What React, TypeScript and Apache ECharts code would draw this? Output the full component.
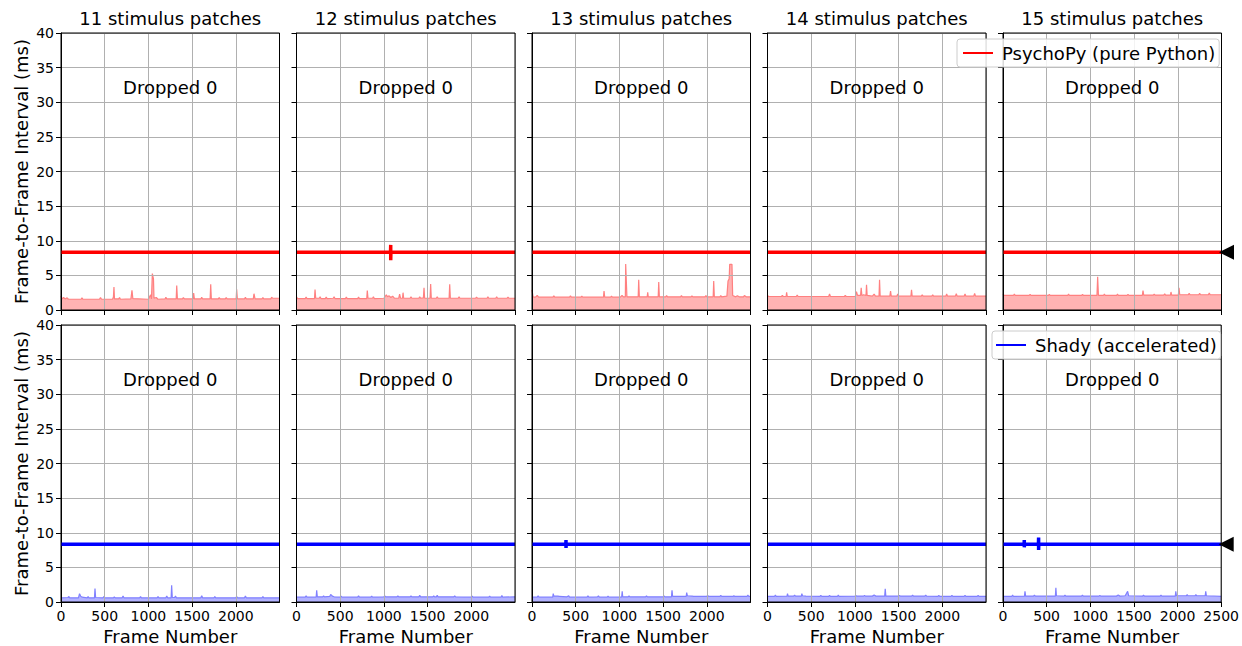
import React, { useEffect, useRef } from 'react';
import * as echarts from 'echarts';

// ---------------- data ----------------
const patchCounts = [11, 12, 13, 14, 15];
const dropLabels = ['Dropped 0', 'Dropped 0', 'Dropped 0', 'Dropped 0', 'Dropped 0'];
const rowNames = ['PsychoPy (pure Python)', 'Shady (accelerated)'];
const targetMs = 8.33;

// main frame-to-frame interval traces (ms)
const psychoLine11 = [[0, 8.33], [2500, 8.33]];
const psychoLine12 = [[0, 8.33], [1076, 8.33], [1078, 9.4], [1078, 7.2], [1080, 8.33], [2500, 8.33]];
const psychoLine13 = [[0, 8.33], [2500, 8.33]];
const psychoLine14 = [[0, 8.33], [2500, 8.33]];
const psychoLine15 = [[0, 8.33], [2500, 8.33]];
const shadyLine11 = [[0, 8.33], [2500, 8.33]];
const shadyLine12 = [[0, 8.33], [2500, 8.33]];
const shadyLine13 = [[0, 8.33], [387, 8.33], [389, 8.95], [389, 7.8], [391, 8.33], [2500, 8.33]];
const shadyLine14 = [[0, 8.33], [2500, 8.33]];
const shadyLine15 = [[0, 8.33], [242, 8.33], [244, 8.95], [244, 7.9], [246, 8.33], [406, 8.33], [408, 9.3], [408, 7.5], [410, 8.33], [2500, 8.33]];

// processing-time traces (ms), shaded
const psychoFill11 = [[0,2.0],[12,1.6],[30,1.8],[45,1.6],[70,1.75],[85,1.55],[230,1.55],[240,1.75],[252,1.55],[440,1.55],[452,1.8],[464,1.55],[590,1.55],[600,1.9],[606,3.3],[612,1.6],[660,1.6],[670,1.8],[680,1.55],[800,1.6],[812,2.85],[822,1.65],[1000,1.55],[1025,2.2],[1035,1.6],[1045,5.25],[1058,4.5],[1064,1.7],[1090,1.8],[1110,1.55],[1190,1.6],[1200,1.85],[1210,1.6],[1318,1.6],[1324,3.55],[1332,1.6],[1390,1.6],[1400,1.8],[1412,1.6],[1512,1.6],[1518,2.45],[1526,1.6],[1600,1.6],[1610,1.85],[1620,1.6],[1706,1.6],[1713,3.7],[1720,1.6],[1800,1.6],[1810,1.8],[1820,1.6],[1880,1.6],[1890,1.8],[1900,1.6],[2004,1.6],[2010,3.0],[2018,1.6],[2100,1.6],[2110,1.85],[2120,1.6],[2200,1.6],[2208,2.35],[2220,1.6],[2300,1.6],[2310,1.8],[2320,1.6],[2400,1.6],[2410,1.85],[2420,1.7],[2500,1.7]];
const psychoFill12 = [[0,1.9],[12,1.65],[100,1.65],[110,1.85],[120,1.65],[206,1.65],[212,2.95],[220,1.7],[260,1.7],[270,1.9],[280,1.65],[330,1.65],[340,1.85],[350,1.65],[420,1.7],[430,1.9],[440,1.65],[560,1.65],[570,1.85],[580,1.65],[700,1.65],[710,1.85],[720,1.65],[804,1.65],[810,2.8],[818,1.7],[870,1.7],[880,1.9],[890,1.65],[1000,1.7],[1028,2.2],[1040,1.9],[1060,2.05],[1080,1.8],[1100,2.0],[1120,1.7],[1170,1.7],[1180,2.3],[1190,1.7],[1213,1.7],[1219,2.5],[1226,1.7],[1300,1.7],[1310,1.9],[1320,1.7],[1400,1.7],[1410,1.9],[1420,1.7],[1452,1.75],[1459,3.2],[1466,1.7],[1528,1.7],[1535,3.75],[1542,1.7],[1600,1.7],[1610,1.9],[1620,1.7],[1746,1.7],[1753,3.7],[1760,1.7],[1850,1.7],[1860,1.9],[1870,1.7],[2050,1.7],[2060,1.85],[2070,1.7],[2180,1.7],[2190,1.9],[2200,1.7],[2280,1.7],[2290,1.9],[2300,1.7],[2410,1.7],[2420,1.85],[2430,1.7],[2500,1.7]];
const psychoFill13 = [[0,2.9],[12,1.9],[40,1.85],[60,2.1],[75,1.85],[240,1.85],[250,2.05],[260,1.85],[430,1.85],[440,2.05],[450,1.85],[560,1.85],[570,2.0],[580,1.85],[818,1.85],[824,2.75],[832,1.85],[900,1.85],[910,2.0],[920,1.85],[1010,1.85],[1030,2.1],[1045,1.9],[1068,1.9],[1072,6.65],[1080,6.65],[1086,1.9],[1215,1.9],[1221,4.35],[1228,1.9],[1318,1.9],[1324,2.55],[1330,1.9],[1444,1.9],[1450,4.05],[1457,1.9],[1530,1.9],[1540,2.1],[1550,1.9],[1700,1.9],[1710,2.1],[1720,1.9],[1820,1.9],[1830,2.05],[1840,1.9],[1980,1.9],[1990,2.1],[2000,1.9],[2073,1.9],[2079,4.2],[2086,1.9],[2150,1.9],[2160,2.1],[2170,1.9],[2230,2.0],[2243,4.2],[2256,4.5],[2262,6.6],[2288,6.6],[2296,2.1],[2330,1.9],[2350,2.05],[2370,1.9],[2420,1.9],[2430,2.1],[2450,1.9],[2500,1.9]];
const psychoFill14 = [[0,2.1],[12,1.95],[160,1.95],[170,2.1],[180,1.95],[213,1.95],[219,2.55],[226,1.95],[330,1.95],[340,2.15],[350,1.95],[700,1.95],[710,2.3],[720,1.95],[880,1.95],[890,2.1],[900,1.95],[1005,1.95],[1018,2.65],[1030,2.1],[1065,2.1],[1072,3.2],[1080,2.1],[1100,2.2],[1127,2.1],[1133,3.65],[1140,2.1],[1200,2.0],[1220,2.3],[1235,2.0],[1276,2.0],[1282,4.35],[1289,2.0],[1400,2.0],[1408,2.75],[1416,2.0],[1480,2.0],[1490,2.3],[1500,2.0],[1641,2.0],[1648,2.9],[1655,2.0],[1760,2.0],[1770,2.2],[1780,2.0],[1880,2.0],[1890,2.2],[1900,2.0],[2040,2.0],[2050,2.3],[2060,2.0],[2150,2.0],[2160,2.35],[2170,2.0],[2250,2.0],[2260,2.3],[2270,2.0],[2360,2.0],[2370,2.4],[2380,2.0],[2500,2.0]];
const psychoFill15 = [[0,2.3],[12,2.1],[120,2.1],[130,2.3],[140,2.1],[300,2.1],[310,2.25],[320,2.1],[520,2.1],[530,2.25],[540,2.1],[740,2.1],[750,2.3],[760,2.1],[900,2.1],[910,2.25],[920,2.1],[1075,2.1],[1083,4.8],[1092,2.1],[1150,2.1],[1160,2.3],[1170,2.1],[1300,2.1],[1310,2.3],[1320,2.1],[1420,2.1],[1430,2.25],[1440,2.1],[1594,2.1],[1602,2.8],[1610,2.15],[1720,2.15],[1730,2.3],[1740,2.15],[1840,2.15],[1850,2.35],[1860,2.15],[1916,2.15],[1922,2.6],[1930,2.15],[2006,2.15],[2014,3.2],[2022,2.2],[2120,2.2],[2130,2.4],[2140,2.2],[2240,2.2],[2250,2.4],[2260,2.2],[2350,2.2],[2360,2.45],[2370,2.2],[2500,2.2]];
const shadyFill11 = [[0,0.6],[80,0.65],[90,0.8],[100,0.6],[200,0.6],[212,1.2],[225,0.85],[240,0.7],[300,0.6],[310,0.8],[320,0.6],[383,0.6],[389,1.95],[396,0.65],[480,0.6],[490,0.8],[500,0.6],[600,0.6],[610,0.75],[620,0.6],[700,0.6],[710,0.85],[720,0.6],[900,0.6],[910,0.8],[920,0.6],[1100,0.6],[1110,0.8],[1120,0.6],[1200,0.6],[1210,0.85],[1220,0.6],[1260,0.6],[1266,2.4],[1273,0.65],[1300,0.65],[1310,0.85],[1320,0.6],[1600,0.6],[1610,0.9],[1620,0.6],[1750,0.6],[1760,0.8],[1770,0.6],[2000,0.6],[2010,0.8],[2020,0.6],[2100,0.6],[2110,0.85],[2120,0.6],[2300,0.6],[2310,0.8],[2320,0.6],[2500,0.6]];
const shadyFill12 = [[0,0.7],[100,0.7],[110,0.9],[120,0.7],[225,0.7],[231,1.7],[238,0.75],[300,0.75],[310,0.9],[320,0.75],[380,0.8],[391,1.1],[410,0.85],[430,0.75],[500,0.7],[510,0.85],[520,0.7],[700,0.7],[710,0.9],[720,0.7],[850,0.7],[860,0.85],[870,0.7],[1000,0.75],[1010,0.9],[1020,0.75],[1150,0.75],[1160,0.9],[1170,0.75],[1300,0.75],[1310,0.9],[1320,0.75],[1400,0.75],[1410,0.95],[1420,0.75],[1560,0.75],[1570,0.9],[1580,0.75],[1600,0.75],[1610,0.95],[1620,0.75],[1800,0.75],[1810,0.9],[1820,0.75],[2000,0.7],[2010,0.85],[2020,0.7],[2200,0.7],[2210,0.85],[2220,0.7],[2340,0.7],[2350,0.95],[2360,0.7],[2500,0.75]];
const shadyFill13 = [[0,0.7],[60,0.7],[70,0.9],[80,0.7],[237,0.7],[243,1.2],[250,0.85],[300,0.85],[310,0.8],[400,0.75],[420,0.9],[430,0.7],[630,0.7],[640,0.9],[650,0.7],[750,0.75],[760,0.9],[770,0.7],[860,0.7],[870,0.85],[880,0.7],[1026,0.7],[1032,1.55],[1038,0.75],[1100,0.75],[1110,0.9],[1120,0.75],[1300,0.75],[1310,0.9],[1320,0.75],[1500,0.75],[1510,0.9],[1520,0.75],[1596,0.75],[1602,1.7],[1609,0.8],[1764,0.8],[1770,1.35],[1778,0.9],[1830,0.85],[1850,0.8],[2000,0.8],[2010,0.95],[2020,0.8],[2150,0.8],[2160,0.95],[2170,0.8],[2300,0.8],[2310,0.9],[2320,0.8],[2460,0.8],[2470,1.0],[2480,0.8],[2500,0.8]];
const shadyFill14 = [[0,0.8],[80,0.8],[90,1.0],[100,0.8],[223,0.85],[229,1.2],[236,0.85],[300,0.85],[310,1.0],[320,0.85],[387,0.85],[393,1.2],[400,0.9],[440,0.85],[600,0.8],[610,0.95],[620,0.8],[700,0.8],[710,0.95],[720,0.8],[800,0.8],[810,1.0],[820,0.8],[1000,0.85],[1010,0.95],[1020,0.85],[1100,0.85],[1110,0.95],[1120,0.85],[1200,0.85],[1220,1.0],[1240,0.85],[1341,0.85],[1347,1.9],[1354,0.85],[1500,0.85],[1510,0.95],[1520,0.85],[1650,0.85],[1660,1.0],[1670,0.85],[1800,0.85],[1810,1.0],[1820,0.85],[1950,0.8],[1960,0.95],[1970,0.8],[2100,0.8],[2110,0.95],[2120,0.8],[2250,0.8],[2260,0.95],[2270,0.8],[2400,0.8],[2410,0.95],[2420,0.8],[2500,0.8]];
const shadyFill15 = [[0,0.8],[100,0.8],[110,1.0],[120,0.8],[246,0.85],[252,1.55],[259,0.85],[350,0.85],[360,1.0],[370,0.85],[600,0.85],[606,2.05],[612,0.9],[700,0.85],[710,1.0],[720,0.85],[900,0.85],[910,1.0],[920,0.85],[1100,0.85],[1110,0.95],[1120,0.85],[1300,0.85],[1320,1.0],[1340,0.85],[1400,0.9],[1428,1.55],[1440,0.9],[1600,0.85],[1610,1.0],[1620,0.85],[1800,0.85],[1810,1.0],[1820,0.85],[1974,0.85],[1980,1.55],[1987,0.9],[2100,0.9],[2110,1.05],[2120,0.9],[2200,0.9],[2210,1.05],[2220,0.9],[2317,0.9],[2323,1.55],[2330,0.9],[2500,0.8]];

const mainLines = [
  [psychoLine11, psychoLine12, psychoLine13, psychoLine14, psychoLine15],
  [shadyLine11, shadyLine12, shadyLine13, shadyLine14, shadyLine15],
];
const fills = [
  [psychoFill11, psychoFill12, psychoFill13, psychoFill14, psychoFill15],
  [shadyFill11, shadyFill12, shadyFill13, shadyFill14, shadyFill15],
];

// ---------------- layout / style ----------------
const FONT = 'DejaVu Sans';
const colLeft = [61, 296.5, 532, 767.5, 1003];
const rowTop = [33, 325];
const W = 218.5;
const H = 277;
const mainColor = ['#ff0000', '#0000ff'];
const fillEdge = ['#ff8080', '#8080ff'];
const fillColor = ['#ffb3b3', '#b3b3ff'];
const BIG = 18;
const SMALL = 14;

export default function App() {
  const ref = useRef<HTMLDivElement>(null);
  useEffect(() => {
    const chart = echarts.init(ref.current!, null, { renderer: 'svg' });
    const grid: any[] = [];
    const xAxis: any[] = [];
    const yAxis: any[] = [];
    const series: any[] = [];
    const graphic: any[] = [];
    for (let r = 0; r < 2; r++) {
      for (let c = 0; c < 5; c++) {
        const idx = r * 5 + c;
        grid.push({
          left: colLeft[c], top: rowTop[r], width: W, height: H,
          show: true, borderColor: '#000', borderWidth: 1, backgroundColor: 'transparent', z: 10,
        });
        xAxis.push({
          type: 'value', gridIndex: idx, min: 0, max: 2500, interval: 500, z: 2,
          axisLine: { show: true, onZero: false, lineStyle: { color: '#000', width: 1 } },
          axisTick: { show: true, length: 5, lineStyle: { color: '#000' } },
          axisLabel: {
            show: r === 1, fontSize: SMALL, color: '#000', fontFamily: FONT, margin: 7,
            showMaxLabel: c === 4, formatter: (v: number) => String(v),
          },
          splitLine: { show: true, lineStyle: { color: '#b0b0b0', width: 1 } },
          name: r === 1 ? 'Frame Number' : '',
          nameLocation: 'middle', nameGap: 25,
          nameTextStyle: { fontSize: BIG, color: '#000', fontFamily: FONT },
        });
        yAxis.push({
          type: 'value', gridIndex: idx, min: 0, max: 40, interval: 5, z: 2,
          axisLine: { show: true, onZero: false, lineStyle: { color: '#000', width: 1 } },
          axisTick: { show: true, length: 5, lineStyle: { color: '#000' } },
          axisLabel: { show: c === 0, fontSize: SMALL, color: '#000', fontFamily: FONT, margin: 7 },
          splitLine: { show: true, lineStyle: { color: '#b0b0b0', width: 1 } },
          name: c === 0 ? 'Frame-to-Frame Interval (ms)' : '',
          nameLocation: 'middle', nameGap: 31, nameRotate: 90,
          nameTextStyle: { fontSize: BIG, color: '#000', fontFamily: FONT },
        });
        series.push({
          type: 'line', name: 'fill' + idx, xAxisIndex: idx, yAxisIndex: idx,
          data: fills[r][c], symbol: 'none', z: 1, silent: true,
          lineStyle: { color: fillEdge[r], width: 1.2 },
          areaStyle: { color: fillColor[r], opacity: 1 },
        });
        series.push({
          type: 'line', name: rowNames[r], xAxisIndex: idx, yAxisIndex: idx,
          data: mainLines[r][c], symbol: 'none', z: 3, silent: true,
          lineStyle: { color: mainColor[r], width: 3.5 },
          itemStyle: { color: mainColor[r] },
        });
        if (c === 4) {
          series.push({
            type: 'scatter', name: 'marker' + r, xAxisIndex: idx, yAxisIndex: idx,
            data: [[2500, targetMs]], clip: false, z: 12, silent: true,
            symbol: 'path://M0,7 L14,0 L14,14 Z', symbolSize: [15, 15], symbolOffset: [5, 0],
            itemStyle: { color: '#000', opacity: 1 },
          });
        }
        graphic.push({
          type: 'text', x: colLeft[c] + W / 2, y: rowTop[r] + 54, z: 20, silent: true,
          style: { text: dropLabels[c], fill: '#000', font: `${BIG}px "${FONT}"`, textAlign: 'center', textVerticalAlign: 'middle' },
        });
        if (r === 0) {
          graphic.push({
            type: 'text', x: colLeft[c] + W / 2, y: 18, z: 20, silent: true,
            style: { text: `${patchCounts[c]} stimulus patches`, fill: '#000', font: `${BIG}px "${FONT}"`, textAlign: 'center', textVerticalAlign: 'middle' },
          });
        }
      }
    }
    const legendCommon = {
      orient: 'horizontal', itemWidth: 30, itemHeight: 14, itemGap: 0,
      backgroundColor: 'rgba(255,255,255,0.85)', borderColor: '#cccccc', borderWidth: 1, borderRadius: 3,
      textStyle: { fontSize: BIG, color: '#000', fontFamily: FONT, padding: [0, 0, 0, 4] },
      selectedMode: false, z: 15,
    };
    const legend = [
      { ...legendCommon, data: [{ name: rowNames[0], icon: 'path://M0,6 L30,6 L30,8 L0,8 Z' }], left: 957, top: 39, padding: [5, 4, 5, 6] },
      { ...legendCommon, data: [{ name: rowNames[1], icon: 'path://M0,6 L30,6 L30,8 L0,8 Z' }], left: 992, top: 331, padding: [5, 4, 5, 4] },
    ];
    chart.setOption({
      animation: false,
      textStyle: { fontFamily: FONT },
      grid, xAxis, yAxis, series, legend, graphic,
    });
    return () => chart.dispose();
  }, []);
  return <div ref={ref} style={{ position: 'fixed', left: 0, top: 0, width: 1242, height: 646, background: '#fff' }} />;
}
